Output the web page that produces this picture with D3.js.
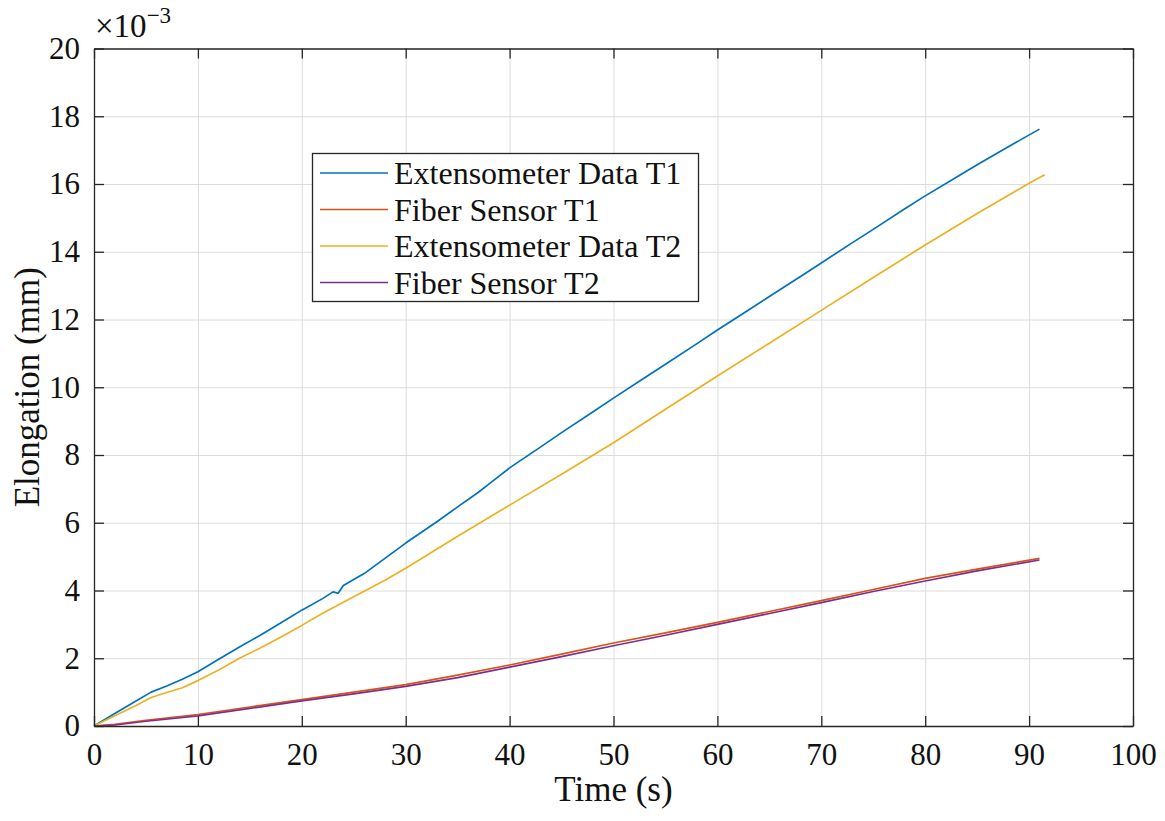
<!DOCTYPE html>
<html>
<head>
<meta charset="utf-8">
<script src="https://cdn.jsdelivr.net/npm/d3@7"></script>
<style>
  body { margin: 0; background: #fff; }
  svg { display: block; }
  text { font-family: "Liberation Serif", "Times New Roman", serif; fill: #111; }
</style>
</head>
<body>
<svg id="chart" width="1165" height="821"></svg>
<script>
// Elongation readings (×10^-3 mm) against time (s)
const extT1Time = [0, 2, 4, 5.5, 7, 8.5, 10, 12, 14, 16, 18, 20, 22, 23, 23.5, 24, 26, 28, 30, 33, 35, 37, 38, 40, 43, 45, 48, 50, 53, 55, 58, 60, 63, 65, 68, 70, 73, 75, 78, 80, 83, 85, 88, 91];
const extT1Vals = [0, 0.37, 0.73, 1.0, 1.18, 1.38, 1.6, 1.97, 2.33, 2.68, 3.05, 3.42, 3.76, 3.96, 3.92, 4.15, 4.5, 4.95, 5.4, 6.03, 6.47, 6.9, 7.14, 7.62, 8.24, 8.66, 9.27, 9.68, 10.28, 10.68, 11.28, 11.69, 12.28, 12.68, 13.27, 13.67, 14.27, 14.66, 15.26, 15.65, 16.2, 16.57, 17.1, 17.62];

const fibT1Time = [0, 2, 5, 10, 15, 20, 25, 30, 35, 40, 45, 50, 55, 60, 65, 70, 75, 80, 85, 91];
const fibT1Vals = [0, 0.05, 0.17, 0.34, 0.56, 0.78, 1.0, 1.22, 1.5, 1.8, 2.12, 2.45, 2.75, 3.06, 3.38, 3.7, 4.03, 4.36, 4.63, 4.95];

const extT2Time = [0, 2, 4, 5.5, 7, 8.5, 10, 12, 14, 16, 18, 20, 22, 24, 26, 28, 30, 35, 40, 45, 50, 55, 60, 65, 70, 75, 80, 85, 90, 91.5];
const extT2Vals = [0, 0.3, 0.6, 0.84, 0.99, 1.13, 1.34, 1.65, 2.0, 2.3, 2.63, 2.97, 3.33, 3.65, 3.98, 4.3, 4.66, 5.6, 6.52, 7.43, 8.36, 9.35, 10.33, 11.3, 12.27, 13.24, 14.2, 15.13, 16.02, 16.27];

const fibT2Time = [0, 2, 5, 10, 15, 20, 25, 30, 35, 40, 45, 50, 55, 60, 65, 70, 75, 80, 85, 91];
const fibT2Vals = [0, 0.03, 0.14, 0.3, 0.52, 0.74, 0.95, 1.17, 1.43, 1.74, 2.05, 2.37, 2.68, 3.0, 3.32, 3.64, 3.97, 4.28, 4.58, 4.9];

const seriesNames = ["Extensometer Data T1", "Fiber Sensor T1", "Extensometer Data T2", "Fiber Sensor T2"];
const seriesColors = ["#0072BD", "#D95319", "#EDB120", "#7E2F8E"];

const xTicks = [0, 10, 20, 30, 40, 50, 60, 70, 80, 90, 100];
const yTicks = [0, 2, 4, 6, 8, 10, 12, 14, 16, 18, 20];

const series = [
  { name: seriesNames[0], color: seriesColors[0], t: extT1Time, v: extT1Vals },
  { name: seriesNames[1], color: seriesColors[1], t: fibT1Time, v: fibT1Vals },
  { name: seriesNames[2], color: seriesColors[2], t: extT2Time, v: extT2Vals },
  { name: seriesNames[3], color: seriesColors[3], t: fibT2Time, v: fibT2Vals }
];

const SERIF = '"Liberation Serif", "Times New Roman", serif';
const svg = d3.select("#chart");
const L = 94, R = 1133, T = 48.5, B = 726;
const W = R - L, H = B - T;

const x = d3.scaleLinear().domain([0, 100]).range([L, R]);
const y = d3.scaleLinear().domain([0, 20]).range([B, T]);

// grid
svg.append("g")
  .attr("transform", `translate(0,${B})`)
  .call(d3.axisBottom(x).tickValues(xTicks).tickSize(-H).tickFormat(""))
  .call(g => g.select(".domain").remove())
  .call(g => g.selectAll("line").attr("stroke", "#dcdcdc").attr("stroke-width", 1));
svg.append("g")
  .attr("transform", `translate(${L},0)`)
  .call(d3.axisLeft(y).tickValues(yTicks).tickSize(-W).tickFormat(""))
  .call(g => g.select(".domain").remove())
  .call(g => g.selectAll("line").attr("stroke", "#dcdcdc").attr("stroke-width", 1));

// data lines
const line = d3.line().x(d => x(d[0])).y(d => y(d[1]));
svg.append("g").selectAll("path")
  .data(series)
  .join("path")
  .attr("d", s => line(s.t.map((t, i) => [t, s.v[i]])))
  .attr("fill", "none")
  .attr("stroke", s => s.color)
  .attr("stroke-width", 1.7)
  .attr("stroke-linejoin", "round");

// axes with inward ticks on all sides
const axisColor = "#262626";
function styleAxis(g) {
  g.attr("font-family", null).attr("font-size", null);
  g.select(".domain").attr("stroke", axisColor).attr("stroke-width", 1.3);
  g.selectAll(".tick line").attr("stroke", axisColor).attr("stroke-width", 1.3);
  g.selectAll(".tick text")
    .style("font-family", SERIF)
    .style("font-size", "31px")
    .style("fill", "#111");
}
svg.append("g")
  .attr("transform", `translate(0,${B})`)
  .call(d3.axisBottom(x).tickValues(xTicks).tickSize(-10).tickSizeOuter(0).tickPadding(17).tickFormat(d3.format("d")))
  .call(styleAxis);
svg.append("g")
  .attr("transform", `translate(0,${T})`)
  .call(d3.axisTop(x).tickValues(xTicks).tickSize(-10).tickSizeOuter(0).tickFormat(""))
  .call(styleAxis);
svg.append("g")
  .attr("transform", `translate(${L},0)`)
  .call(d3.axisLeft(y).tickValues(yTicks).tickSize(-10).tickSizeOuter(0).tickPadding(14).tickFormat(d3.format("d")))
  .call(styleAxis);
svg.append("g")
  .attr("transform", `translate(${R},0)`)
  .call(d3.axisRight(y).tickValues(yTicks).tickSize(-10).tickSizeOuter(0).tickFormat(""))
  .call(styleAxis);

// exponent marker
const expo = svg.append("text").attr("x", 95).attr("y", 37)
  .style("font-family", SERIF).style("font-size", "33px");
expo.append("tspan").text("×10");
expo.append("tspan").attr("dy", -14).style("font-size", "23px").text("−3");

// axis titles
svg.append("text")
  .attr("x", (L + R) / 2).attr("y", 801)
  .attr("text-anchor", "middle")
  .style("font-family", SERIF).style("font-size", "35px")
  .text("Time (s)");
svg.append("text")
  .attr("transform", `translate(39,${(T + B) / 2}) rotate(-90)`)
  .attr("text-anchor", "middle")
  .style("font-family", SERIF).style("font-size", "35px")
  .text("Elongation (mm)");

// legend
const lg = svg.append("g");
lg.append("rect")
  .attr("x", 312.5).attr("y", 153.5).attr("width", 386).attr("height", 148)
  .attr("fill", "#fff").attr("stroke", axisColor).attr("stroke-width", 1.3);
const rowY = i => 173 + i * 36.5;
lg.selectAll("line.key")
  .data(series)
  .join("line")
  .attr("class", "key")
  .attr("x1", 320).attr("x2", 388)
  .attr("y1", (d, i) => rowY(i)).attr("y2", (d, i) => rowY(i))
  .attr("stroke", d => d.color).attr("stroke-width", 1.7);
lg.selectAll("text.key")
  .data(series)
  .join("text")
  .attr("class", "key")
  .attr("x", 394).attr("y", (d, i) => rowY(i) + 11)
  .style("font-family", SERIF).style("font-size", "32px")
  .text(d => d.name);
</script>
</body>
</html>
